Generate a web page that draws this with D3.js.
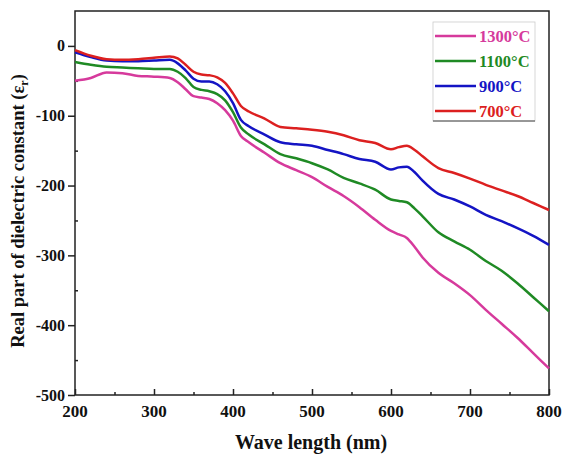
<!DOCTYPE html>
<html>
<head>
<meta charset="utf-8">
<script src="https://cdn.jsdelivr.net/npm/d3@7"></script>
<style>
  body { margin: 0; background: #fff; }
  text { font-family: "Liberation Serif", "Times New Roman", serif; font-weight: bold; }
</style>
</head>
<body>
<svg id="chart" width="563" height="457"></svg>
<script>
// wavelength (nm)
const wave = [200, 220, 240, 260, 280, 300, 320, 330, 340, 350, 360, 370, 380, 390, 400, 410, 420, 440, 460, 480,
  500, 520, 540, 560, 580, 600, 610, 620, 630, 640, 660, 680, 700, 720, 740, 760, 780, 800]

const t1300 = [-50, -46, -38, -39, -43, -44, -46, -52, -62, -72, -74, -76, -82, -92, -107, -129, -138, -153, -168, -178,
  -188, -202, -215, -231, -249, -265, -270, -275, -288, -303, -325, -340, -357, -378, -398, -418, -440, -462]
const t1100 = [-23, -27, -30, -31, -32, -33, -33, -37, -46, -59, -63, -65, -69, -78, -95, -117, -127, -141, -155, -161,
  -168, -177, -189, -197, -206, -220, -222, -224, -233, -244, -267, -280, -292, -308, -322, -340, -360, -380]
const t900 = [-9, -16, -21, -22, -22, -21, -20, -25, -35, -47, -51, -51, -55, -65, -82, -106, -115, -127, -138, -141,
  -143, -149, -155, -162, -166, -177, -174, -173, -181, -193, -212, -220, -230, -242, -251, -261, -272, -285]
const t700 = [-6, -14, -19, -20, -19, -17, -15, -18, -27, -37, -41, -42, -45, -53, -68, -86, -94, -104, -116, -118,
  -120, -123, -128, -135, -139, -148, -145, -143, -149, -158, -175, -182, -190, -199, -207, -215, -225, -235]

const seriesNames = ['1300°C', '1100°C', '900°C', '700°C']
const seriesColors = ['#d63a9c', '#1f8a24', '#1414c4', '#dc2020']
const xTicks = [200, 300, 400, 500, 600, 700, 800]
const yTicks = [0, -100, -200, -300, -400, -500]

const allSeries = [t1300, t1100, t900, t700]

const svg = d3.select('#chart')
const mLeft = 75, mRight = 549, mTop = 11, mBottom = 395

const x = d3.scaleLinear().domain([200, 800]).range([mLeft, mRight])
const y = d3.scaleLinear().domain([-500, 50]).range([mBottom, mTop])

// frame
svg.append('rect')
  .attr('x', mLeft).attr('y', mTop)
  .attr('width', mRight - mLeft).attr('height', mBottom - mTop)
  .attr('fill', 'none').attr('stroke', '#222').attr('stroke-width', 1.5)

// x axis: ticks point inward
const xAxis = svg.append('g').attr('transform', `translate(0,${mBottom})`)
  .call(d3.axisTop(x).tickValues(d3.range(250, 800, 100)).tickSize(3).tickFormat(''))
xAxis.select('.domain').remove()
const xAxisMaj = svg.append('g').attr('transform', `translate(0,${mBottom})`)
  .call(d3.axisTop(x).tickValues(xTicks).tickSize(6).tickFormat(''))
xAxisMaj.select('.domain').remove()

svg.append('g').selectAll('text')
  .data(xTicks)
  .join('text')
  .attr('x', d => x(d))
  .attr('y', 417)
  .attr('text-anchor', 'middle')
  .attr('font-size', 17)
  .attr('fill', '#111')
  .text(d => d)

// y axis: major outward, minor inward
const yMaj = svg.append('g').attr('transform', `translate(${mLeft},0)`)
  .call(d3.axisLeft(y).tickValues(yTicks).tickSize(7).tickFormat(''))
yMaj.select('.domain').remove()
const yMin = svg.append('g').attr('transform', `translate(${mLeft},0)`)
  .call(d3.axisRight(y).tickValues(d3.range(-450, 0, 100)).tickSize(3).tickFormat(''))
yMin.select('.domain').remove()
svg.selectAll('.tick line').attr('stroke', '#222').attr('stroke-width', 1.5)

svg.append('g').selectAll('text')
  .data(yTicks)
  .join('text')
  .attr('x', mLeft - 10)
  .attr('y', d => y(d) + 5.5)
  .attr('text-anchor', 'end')
  .attr('font-size', 16)
  .attr('fill', '#111')
  .text(d => d === 0 ? '0' : '-' + Math.abs(d))

// axis titles
svg.append('text')
  .attr('x', 311)
  .attr('y', 449)
  .attr('text-anchor', 'middle')
  .attr('font-size', 20)
  .attr('fill', '#111')
  .text('Wave length (nm)')

const yTitle = svg.append('text')
  .attr('transform', `translate(24,${(mTop + mBottom) / 2 + 8}) rotate(-90)`)
  .attr('text-anchor', 'middle')
  .attr('font-size', 18.5)
  .attr('fill', '#111')
yTitle.append('tspan').text('Real part of dielectric constant (ε')
yTitle.append('tspan').attr('font-size', 12).attr('dy', 4).text('r')
yTitle.append('tspan').attr('dy', -4).text(')')

// lines
const line = d3.line()
  .x((d, i) => x(wave[i]))
  .y(d => y(d))
  .curve(d3.curveMonotoneX)

svg.append('g')
  .selectAll('path')
  .data(allSeries)
  .join('path')
  .attr('d', d => line(d))
  .attr('fill', 'none')
  .attr('stroke', (d, i) => seriesColors[i])
  .attr('stroke-width', 2.5)

// legend
const legend = svg.append('g')
legend.append('rect')
  .attr('x', 433).attr('y', 22).attr('width', 102).attr('height', 99)
  .attr('fill', '#fff').attr('stroke', '#ccc').attr('stroke-width', 0.8)
legend.append('line')
  .attr('x1', 433).attr('x2', 535).attr('y1', 121).attr('y2', 121)
  .attr('stroke', '#444').attr('stroke-width', 1)

seriesNames.forEach((name, i) => {
  const ly = 36 + i * 25
  legend.append('line')
    .attr('x1', 435).attr('x2', 476).attr('y1', ly).attr('y2', ly)
    .attr('stroke', seriesColors[i]).attr('stroke-width', 2.5)
  legend.append('text')
    .attr('x', 479).attr('y', ly + 5.5)
    .attr('font-size', 16.5)
    .attr('fill', seriesColors[i])
    .text(name)
})
</script>
</body>
</html>
